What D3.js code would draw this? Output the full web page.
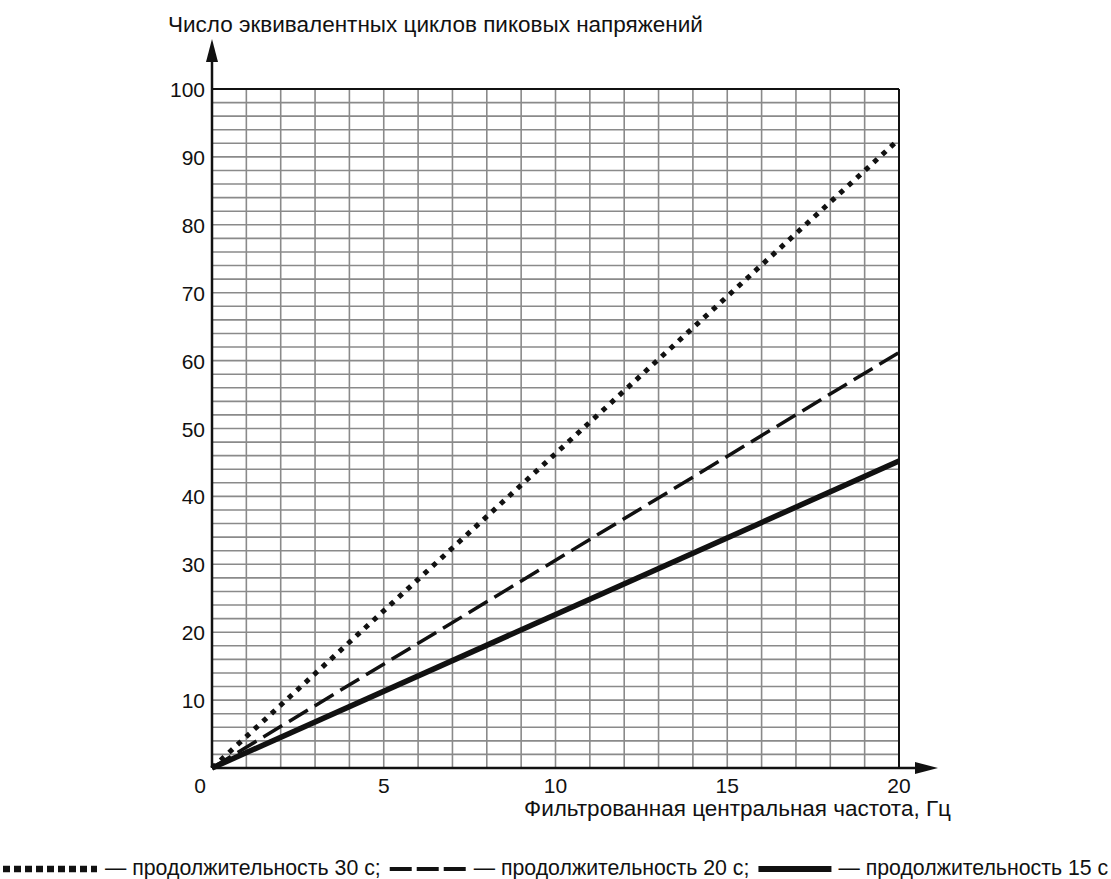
<html>
<head>
<meta charset="utf-8" />
<script src="https://d3js.org/d3.v7.min.js"></script>
<style>
  body { margin: 0; background: white; }
  text { font-family: "Liberation Sans", Arial, sans-serif; fill: #111; }
</style>
</head>
<body>
<div id="chart"></div>
<script>
// data
var freq = [0, 20];
var dur30 = [0, 92.6];
var dur20 = [0, 61.2];
var dur15 = [0, 45.2];
var xTicks = [0, 5, 10, 15, 20];
var yTicks = [10, 20, 30, 40, 50, 60, 70, 80, 90, 100];
var legendLabels = ["— продолжительность 30 с;", "— продолжительность 20 с;", "— продолжительность 15 с"];

var width = 1111, height = 879;
var x = d3.scaleLinear().domain([0, 20]).range([212, 899]);
var y = d3.scaleLinear().domain([0, 100]).range([768, 89]);

var svg = d3.select("#chart").append("svg")
  .attr("width", width).attr("height", height);

// grid
var grid = svg.append("g").attr("stroke", "#8a8a8a").attr("stroke-width", 1.6);
grid.selectAll(".vg").data(d3.range(1, 20)).enter().append("line")
  .attr("x1", d => x(d)).attr("x2", d => x(d))
  .attr("y1", y(0)).attr("y2", y(100));
grid.selectAll(".hg").data(d3.range(2, 100, 2)).enter().append("line")
  .attr("x1", x(0)).attr("x2", x(20))
  .attr("y1", d => y(d)).attr("y2", d => y(d));

// frame top/right
svg.append("line").attr("x1", x(0)).attr("x2", x(20)).attr("y1", y(100)).attr("y2", y(100))
  .attr("stroke", "#111").attr("stroke-width", 2);
svg.append("line").attr("x1", x(20)).attr("x2", x(20)).attr("y1", y(0)).attr("y2", y(100))
  .attr("stroke", "#111").attr("stroke-width", 2);

// axes with arrows
svg.append("line").attr("x1", x(0)).attr("x2", 925).attr("y1", y(0)).attr("y2", y(0))
  .attr("stroke", "#111").attr("stroke-width", 2.5);
svg.append("path").attr("d", "M938," + y(0) + " L915," + (y(0) - 6) + " L915," + (y(0) + 6) + " Z").attr("fill", "#111");
svg.append("line").attr("x1", x(0)).attr("x2", x(0)).attr("y1", y(0)).attr("y2", 55)
  .attr("stroke", "#111").attr("stroke-width", 2.5);
svg.append("path").attr("d", "M" + x(0) + ",39 L" + (x(0) - 6) + ",62 L" + (x(0) + 6) + ",62 Z").attr("fill", "#111");

// tick labels
svg.selectAll(".yt").data(yTicks).enter().append("text")
  .attr("x", 205).attr("y", d => y(d) + 8)
  .attr("text-anchor", "end").attr("font-size", 21).text(d => d);
svg.selectAll(".xt").data(xTicks).enter().append("text")
  .attr("x", d => d === 0 ? 200 : x(d)).attr("y", 793)
  .attr("text-anchor", "middle").attr("font-size", 21).text(d => d);

svg.append("text").attr("x", 168).attr("y", 32).attr("font-size", 22.5)
  .text("Число эквивалентных циклов пиковых напряжений");
svg.append("text").attr("x", 951).attr("y", 816).attr("text-anchor", "end").attr("font-size", 22.5)
  .text("Фильтрованная центральная частота, Гц");

// series
var line = d3.line().x(d => x(d[0])).y(d => y(d[1]));
function series(vals) { return freq.map((f, i) => [f, vals[i]]); }
var styles = [
  { vals: dur30, w: 5, dash: "5,6.5", lw: 6.5, ldash: "7,4", len: 94, gap: 8 },
  { vals: dur20, w: 3.5, dash: "22,8", lw: 4, ldash: "22,5", len: 79, gap: 5 },
  { vals: dur15, w: 5.5, dash: null, lw: 6, ldash: null, len: 73, gap: 7 }
];
styles.forEach(function(s) {
  svg.append("path").datum(series(s.vals))
    .attr("d", line).attr("fill", "none").attr("stroke", "#111")
    .attr("stroke-width", s.w).attr("stroke-dasharray", s.dash);
});

// legend
var lx = 3, ly = 875;
styles.forEach(function(s, i) {
  svg.append("line").attr("x1", lx).attr("x2", lx + s.len)
    .attr("y1", ly - 6).attr("y2", ly - 6)
    .attr("stroke", "#111").attr("stroke-width", s.lw).attr("stroke-dasharray", s.ldash);
  lx += s.len + s.gap;
  var t = svg.append("text").attr("x", lx).attr("y", ly).attr("font-size", 21.3).text(legendLabels[i]);
  lx += t.node().getComputedTextLength() + 9;
});
</script>
</body>
</html>
